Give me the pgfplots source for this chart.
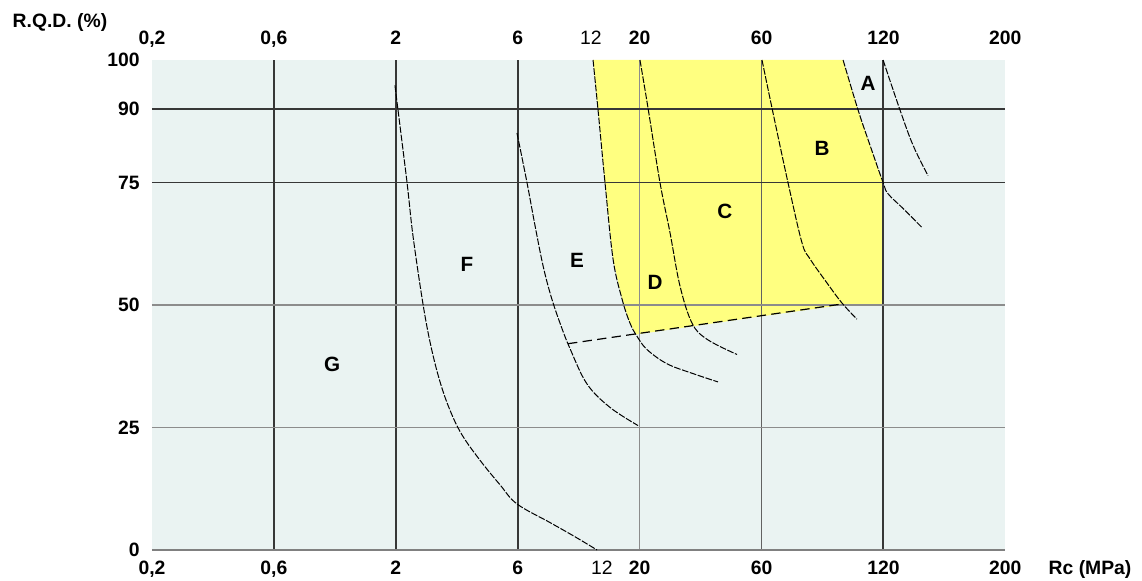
\documentclass[border=0pt]{standalone}
\usepackage{fontspec}
\setmainfont{Liberation Sans}
\usepackage{pgfplots}
\pgfplotsset{compat=1.18}
\definecolor{bgc}{RGB}{234,243,242}
\definecolor{yel}{RGB}{255,255,128}
\definecolor{gdark}{RGB}{55,55,55}
\definecolor{glight}{RGB}{140,140,140}
\begin{document}
\begin{tikzpicture}
\useasboundingbox (-114pt,-23.25pt) rectangle (742.5pt,412.5pt);
% top tick labels
\begin{axis}[
  at={(0pt,0pt)}, anchor=south west,
  scale only axis, width=640pt, height=367.5pt,
  xmin=0, xmax=7, ymin=0, ymax=100,
  axis line style={draw=none}, major tick length=0pt,
  ytick=\empty, xticklabel pos=upper,
  xtick={0,1,2,3,3.6,4,5,6,7},
  xticklabels={{0,2},{0,6},2,6,\mdseries 12,20,60,120,200},
  font=\fontsize{14.5pt}{17pt}\selectfont\bfseries,
  xticklabel style={anchor=base, inner sep=0pt, yshift=11.25pt},
]
\addplot[draw=none] coordinates {(0,0)};
\end{axis}
\begin{axis}[
  at={(0pt,0pt)}, anchor=south west,
  scale only axis, width=640pt, height=367.5pt,
  xmin=0, xmax=7, ymin=0, ymax=100,
  axis line style={draw=none}, major tick length=0pt,
  xtick={0,1,2,3,3.69,4,5,6,7},
  xticklabels={{0,2},{0,6},2,6,\mdseries 12,20,60,120,200},
  ytick={0,25,50,75,90,100},
  yticklabels={0,25,50,75,90,100},
  font=\fontsize{14.5pt}{17pt}\selectfont\bfseries,
  xticklabel style={anchor=base, inner sep=0pt, yshift=-18.75pt},
  yticklabel style={anchor=east, inner sep=0pt, xshift=-9pt},
  axis background/.style={fill=bgc},
  clip=false,
]
% yellow zone
\addplot[fill=yel, draw=none] coordinates {
 (3.618,100) (5.669,100) (5.792,89.8) (5.890,82.6) (5.997,75) (6,75) (6,50)
 (5.660,50) (5.004,47.7) (3.975,44.0) (3.921,46.3) (3.856,51.2) (3.782,59.4)
 (3.716,75) (3.659,89.8) (3.618,100)} -- cycle;
% grid
\draw[gdark, line width=1.4pt] (axis cs:1,0) -- (axis cs:1,100);
\draw[gdark, line width=1.4pt] (axis cs:2,0) -- (axis cs:2,100);
\draw[gdark, line width=1.4pt] (axis cs:3,0) -- (axis cs:3,100);
\draw[gdark, line width=1.4pt] (axis cs:6,0) -- (axis cs:6,100);
\draw[glight, line width=0.9pt] (axis cs:4,0) -- (axis cs:4,100);
\draw[glight!70!black, line width=0.9pt] (axis cs:5,0) -- (axis cs:5,100);
\draw[gdark, line width=1.4pt] (axis cs:0,90) -- (axis cs:7,90);
\draw[gdark, line width=1.4pt] (axis cs:0,75) -- (axis cs:7,75);
\draw[glight, line width=0.9pt] (axis cs:0,50) -- (axis cs:7,50);
\draw[glight, line width=0.9pt] (axis cs:0,25) -- (axis cs:7,25);
\draw[gray, line width=1.3pt] (axis cs:0,0) -- (axis cs:7,0);
% curves
\pgfplotsset{crv/.style={black, line width=0.75pt, dash pattern=on 5pt off 1.2pt, smooth, tension=0.6}}
\addplot[crv] coordinates {(1.993,94.8) (2.018,89.8) (2.092,75) (2.141,64.1) (2.223,50.2)
 (2.289,41.5) (2.363,34.3) (2.445,28.5) (2.543,23.5) (2.691,18.3) (2.855,13.3) (2.994,9.4)
 (3.265,5.6) (3.470,2.7) (3.651,0)};
\addplot[crv] coordinates {(2.994,85.1) (3.076,75) (3.142,66.2) (3.208,58.0) (3.273,51.8)
 (3.347,46.3) (3.429,41.1) (3.568,33.9) (3.757,29.1) (3.987,25.4)};
\addplot[crv] coordinates {(3.618,100) (3.659,89.8) (3.716,75) (3.782,59.4) (3.856,51.2)
 (3.921,46.3) (3.979,43.6) (4.061,40.9) (4.225,38.0) (4.438,36.0) (4.643,34.3)};
\addplot[crv] coordinates {(4.003,100) (4.069,90.2) (4.167,75) (4.249,64.8) (4.331,53.9)
 (4.430,46.3) (4.553,43.0) (4.799,39.9)};
\addplot[crv] coordinates {(5.004,100) (5.086,90.2) (5.217,75) (5.332,62.7) (5.398,59.4)
 (5.537,54.5) (5.660,50.4) (5.783,47.1)};
\addplot[crv] coordinates {(5.669,100) (5.792,89.8) (5.890,82.6) (5.997,75) (6.038,72.7)
 (6.161,69.7) (6.317,65.8)};
\addplot[crv] coordinates {(5.997,100) (6.136,89.8) (6.243,82.6) (6.366,76.4)};
\addplot[black, line width=0.9pt, dash pattern=on 7pt off 4pt] coordinates {(3.413,42.1) (5.660,50.2)};
% zone labels
\begin{scope}[every node/.style={font=\fontsize{15.5pt}{18pt}\selectfont\bfseries}]
\node at (axis cs:5.874,95.2) {A};
\node at (axis cs:5.496,82.0) {B};
\node at (axis cs:4.700,69.1) {C};
\node at (axis cs:4.126,54.7) {D};
\node at (axis cs:3.486,59.2) {E};
\node at (axis cs:2.584,58.2) {F};
\node at (axis cs:1.477,37.8) {G};
\end{scope}
% axis titles
\node at (rel axis cs:-0.1078,1.0755) {\fontsize{14.5pt}{17pt}\selectfont R.Q.D. (\%)};
\node at (rel axis cs:1.0993,-0.0388) {\fontsize{14.5pt}{17pt}\selectfont Rc (MPa)};
\end{axis}
\end{tikzpicture}
\end{document}
